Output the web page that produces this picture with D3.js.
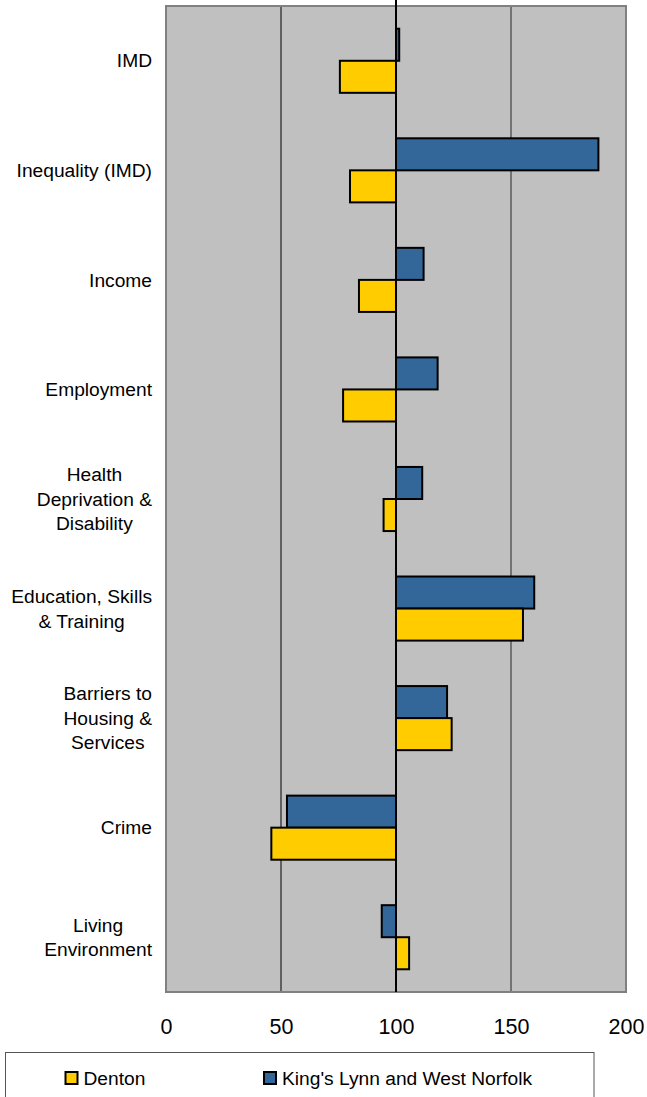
<!DOCTYPE html>
<html>
<head>
<meta charset="utf-8">
<script src="https://cdn.jsdelivr.net/npm/d3@7"></script>
<style>
  html, body { margin: 0; padding: 0; background: #fff; }
  svg { display: block; }
  text { font-family: "Liberation Sans", Arial, sans-serif; fill: #000; }
</style>
</head>
<body>
<svg id="chart" width="647" height="1097"></svg>
<script>
const categories = [
  ["IMD"],
  ["Inequality (IMD)"],
  ["Income"],
  ["Employment"],
  ["Health", "Deprivation &", "Disability"],
  ["Education, Skills", "& Training"],
  ["Barriers to", "Housing &", "Services"],
  ["Crime"],
  ["Living", "Environment"]
];
const seriesNames = ["King's Lynn and West Norfolk", "Denton"];
const kingsLynn = [101.4, 188.0, 112.0, 118.1, 111.4, 160.1, 122.2, 52.6, 93.8];
const denton    = [75.6, 80.0, 83.9, 77.0, 94.6, 155.2, 124.2, 45.8, 105.7];
const tickValues = [0, 50, 100, 150, 200];
const legendOrder = ["Denton", "King's Lynn and West Norfolk"];

const colors = { "Denton": "#FFCC00", "King's Lynn and West Norfolk": "#336699" };
const seriesValues = { "King's Lynn and West Norfolk": kingsLynn, "Denton": denton };

const svg = d3.select("#chart");
const plot = { left: 166, right: 626, top: 6, bottom: 992 };

const x = d3.scaleLinear().domain([0, 200]).range([plot.left, plot.right]);
const y = d3.scaleBand().domain(d3.range(categories.length))
  .range([plot.top, plot.bottom]).paddingInner(0.415).paddingOuter(0.2075);
const ySub = d3.scaleBand().domain(seriesNames).range([0, y.bandwidth()]);

// plot background
svg.append("rect").attr("x", plot.left).attr("y", plot.top)
  .attr("width", plot.right - plot.left).attr("height", plot.bottom - plot.top)
  .attr("fill", "#C0C0C0");

// gridlines
svg.append("g").selectAll("line").data([50, 150]).join("line")
  .attr("x1", d => x(d)).attr("x2", d => x(d))
  .attr("y1", plot.top).attr("y2", plot.bottom)
  .attr("stroke", d => d === 50 ? "#000" : "#5a5a5a")
  .attr("stroke-width", d => d === 50 ? 1 : 1.5);

// plot border
svg.append("rect").attr("x", plot.left).attr("y", plot.top)
  .attr("width", plot.right - plot.left).attr("height", plot.bottom - plot.top)
  .attr("fill", "none").attr("stroke", "#808080").attr("stroke-width", 2);

// bars
const groups = svg.append("g").selectAll("g").data(categories).join("g")
  .attr("transform", (d, i) => `translate(0,${y(i)})`);
groups.each(function(d, i) {
  d3.select(this).selectAll("rect").data(seriesNames).join("rect")
    .attr("x", s => Math.min(x(100), x(seriesValues[s][i])))
    .attr("width", s => Math.abs(x(seriesValues[s][i]) - x(100)))
    .attr("y", s => ySub(s))
    .attr("height", ySub.bandwidth())
    .attr("fill", s => colors[s])
    .attr("stroke", "#000").attr("stroke-width", 2);
});

// axis line at 100
svg.append("line").attr("x1", x(100)).attr("x2", x(100))
  .attr("y1", 0).attr("y2", plot.bottom)
  .attr("stroke", "#000").attr("stroke-width", 2);

// x tick labels
const xAxis = d3.axisBottom(x).tickValues(tickValues).tickSize(0).tickPadding(0);
const gx = svg.append("g").attr("transform", `translate(0,${plot.bottom})`).call(xAxis);
gx.select(".domain").remove();
gx.selectAll("text").attr("font-size", 21.5).attr("dy", null).attr("y", 42)
  .style("font-family", '"Liberation Sans", Arial, sans-serif');

// category labels
const labelRight = 152;
const lineH = 24.5;
const fs = 19.2;
categories.forEach((lines, i) => {
  const cy = y(i) + y.bandwidth() / 2;
  const t = svg.append("text").attr("font-size", fs).attr("text-anchor", "middle");
  lines.forEach((ln, j) => {
    t.append("tspan").attr("x", 0)
      .attr("y", cy + (j - (lines.length - 1) / 2) * lineH + fs * 0.35)
      .text(ln);
  });
  let maxW = 0;
  t.selectAll("tspan").each(function() { maxW = Math.max(maxW, this.getComputedTextLength()); });
  t.selectAll("tspan").attr("x", labelRight - maxW / 2);
});

// legend
svg.append("rect").attr("x", 5.5).attr("y", 1052.5).attr("width", 588.5).attr("height", 60)
  .attr("fill", "#fff").attr("stroke", "#555").attr("stroke-width", 1);
const legendX = { "Denton": 65.5, "King's Lynn and West Norfolk": 264 };
legendOrder.forEach(s => {
  svg.append("rect").attr("x", legendX[s]).attr("y", 1072).attr("width", 12).attr("height", 12)
    .attr("fill", colors[s]).attr("stroke", "#000").attr("stroke-width", 2);
  svg.append("text").attr("x", legendX[s] + 18).attr("y", 1085).attr("font-size", 19.2).text(s);
});
</script>
</body>
</html>
